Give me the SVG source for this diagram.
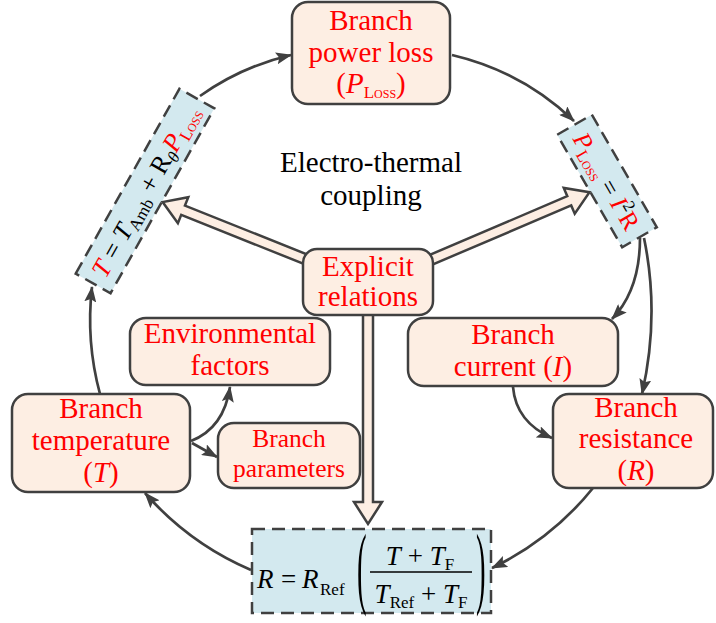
<svg xmlns="http://www.w3.org/2000/svg" width="716" height="623" viewBox="0 0 716 623">
<defs>
<marker id="ah" viewBox="0 0 16 12" refX="15" refY="6" markerWidth="16" markerHeight="12" orient="auto" markerUnits="userSpaceOnUse">
<path d="M0,0 L16,6 L0,12 L3,6 z" fill="#404040"/>
</marker>
<style>
.nd{fill:#fdeee3;stroke:#404040;stroke-width:2.5}
.fm{fill:#d3e9ef;stroke:#404040;stroke-width:2.5;stroke-dasharray:13 7}
.t{font-family:"Liberation Serif","DejaVu Serif",serif;font-size:29px;fill:#ff0000;text-anchor:middle}
.f{font-family:"Liberation Serif","DejaVu Serif",serif;font-size:27px;fill:#000}
.k{fill:#000}
.r{fill:#ff0000}
.i{font-style:italic}
.s{font-size:17px}
.sc{font-variant:small-caps}
.c{stroke:#404040;stroke-width:2.7;fill:none;marker-end:url(#ah)}
.ha{fill:#fdeee3;stroke:#404040;stroke-width:2.5;stroke-linejoin:miter}
</style>
</defs>
<rect width="716" height="623" fill="#ffffff"/>

<g id="connectors">
<path class="c" d="M200,96 A260,260 0 0 1 291,55"/>
<path class="c" d="M452,55 A265,265 0 0 1 574,121"/>
<path class="c" d="M640,238 Q640,290 612,319"/>
<path class="c" d="M644,238 Q660,315 642,394"/>
<path class="c" d="M513,387 Q516,422 552,438"/>
<path class="c" d="M593,488 A292,292 0 0 1 492,568"/>
<path class="c" d="M251,570 A296,296 0 0 1 145,493"/>
<path class="c" d="M100,394 A285,285 0 0 1 92,287"/>
<path class="c" d="M191,441 Q224,428 230,387"/>
<path class="c" d="M192,443 L217,457"/>
</g>

<g id="thermal-eq">
<rect class="fm" x="-106" y="-20" width="212" height="40" transform="translate(145,191) rotate(-60.7)"/>
<text class="t" transform="translate(145,191) rotate(-60.7)" x="0" y="9" style="font-size:26px"><tspan class="i r">T</tspan><tspan class="k"> = </tspan><tspan class="i k">T</tspan><tspan class="k s" dy="5">Amb</tspan><tspan class="k" dy="-5"> + R</tspan><tspan class="k i s" dy="5">θ</tspan><tspan class="i r" dy="-5">P</tspan><tspan class="r s sc" dy="5">Loss</tspan></text>
</g>

<g id="power-eq">
<rect class="fm" x="-65" y="-20" width="130" height="40" transform="translate(607,181) rotate(60)"/>
<text class="t" transform="translate(607,181) rotate(60)" x="0" y="9" style="font-size:25px"><tspan class="i r">P</tspan><tspan class="r s sc" dy="5">Loss</tspan><tspan class="k" dy="-5"> = </tspan><tspan class="i r">I</tspan><tspan class="k s" dy="-10">2</tspan><tspan class="r" dy="10">R</tspan></text>
</g>

<g id="resistance-eq">
<rect class="fm" x="252" y="529" width="239" height="84"/>
<text class="f i" x="257" y="588">R</text>
<text class="f" x="281" y="588">=</text>
<text class="f i" x="302" y="588">R</text>
<text class="f" x="320" y="595" style="font-size:17px">Ref</text>
<text class="f" transform="translate(357,597) scale(0.32,1)" style="font-size:90px">(</text>
<text class="f" transform="translate(476,597) scale(0.32,1)" style="font-size:90px">)</text>
<text class="f" x="420" y="565" text-anchor="middle"><tspan class="i">T</tspan> + <tspan class="i">T</tspan><tspan style="font-size:17px" dy="5">F</tspan></text>
<line x1="370" y1="572" x2="472" y2="572" stroke="#000" stroke-width="1.5"/>
<text class="f" x="421" y="603" text-anchor="middle"><tspan class="i">T</tspan><tspan style="font-size:17px" dy="5">Ref</tspan><tspan dy="-5"> + </tspan><tspan class="i">T</tspan><tspan style="font-size:17px" dy="5">F</tspan></text>
</g>

<g id="coupling-arrows">
<polygon class="ha" points="0,-5 169,-5 169,-14 191,0 169,14 169,5 0,5" transform="translate(340,273) rotate(201.8)"/>
<polygon class="ha" points="0,-5 184,-5 184,-14 206,0 184,14 184,5 0,5" transform="translate(400,273) rotate(-23.1)"/>
<polygon class="ha" points="0,-5 202,-5 202,-14 224,0 202,14 202,5 0,5" transform="translate(368,300) rotate(90)"/>
</g>

<g id="power-loss">
<rect class="nd" x="292" y="2" width="158" height="102" rx="16"/>
<text class="t" x="371" y="30">Branch</text>
<text class="t" x="371" y="62">power loss</text>
<text class="t" x="371" y="93">(<tspan class="i">P</tspan><tspan class="s sc" dy="5">Loss</tspan><tspan dy="-5">)</tspan></text>
</g>

<g id="title">
<text class="t k" x="371" y="172">Electro-thermal</text>
<text class="t k" x="371" y="205">coupling</text>
</g>

<g id="explicit">
<rect class="nd" x="303" y="249" width="130" height="66" rx="14"/>
<text class="t" x="368" y="276">Explicit</text>
<text class="t" x="368" y="306">relations</text>
</g>

<g id="environmental">
<rect class="nd" x="130" y="318" width="200" height="67" rx="16"/>
<text class="t" x="230" y="343">Environmental</text>
<text class="t" x="230" y="375">factors</text>
</g>

<g id="current">
<rect class="nd" x="408" y="318" width="210" height="68" rx="16"/>
<text class="t" x="513" y="344">Branch</text>
<text class="t" x="513" y="376">current (<tspan class="i">I</tspan>)</text>
</g>

<g id="temperature">
<rect class="nd" x="12" y="394" width="178" height="98" rx="16"/>
<text class="t" x="101" y="418">Branch</text>
<text class="t" x="101" y="450">temperature</text>
<text class="t" x="101" y="482">(<tspan class="i">T</tspan>)</text>
</g>

<g id="parameters">
<rect class="nd" x="218" y="423" width="142" height="65" rx="16"/>
<text class="t" x="289" y="447" style="font-size:25.5px">Branch</text>
<text class="t" x="289" y="477" style="font-size:25.5px">parameters</text>
</g>

<g id="resistance">
<rect class="nd" x="553" y="394" width="160" height="94" rx="16"/>
<text class="t" x="636" y="417">Branch</text>
<text class="t" x="636" y="448">resistance</text>
<text class="t" x="636" y="480">(<tspan class="i">R</tspan>)</text>
</g>
</svg>
